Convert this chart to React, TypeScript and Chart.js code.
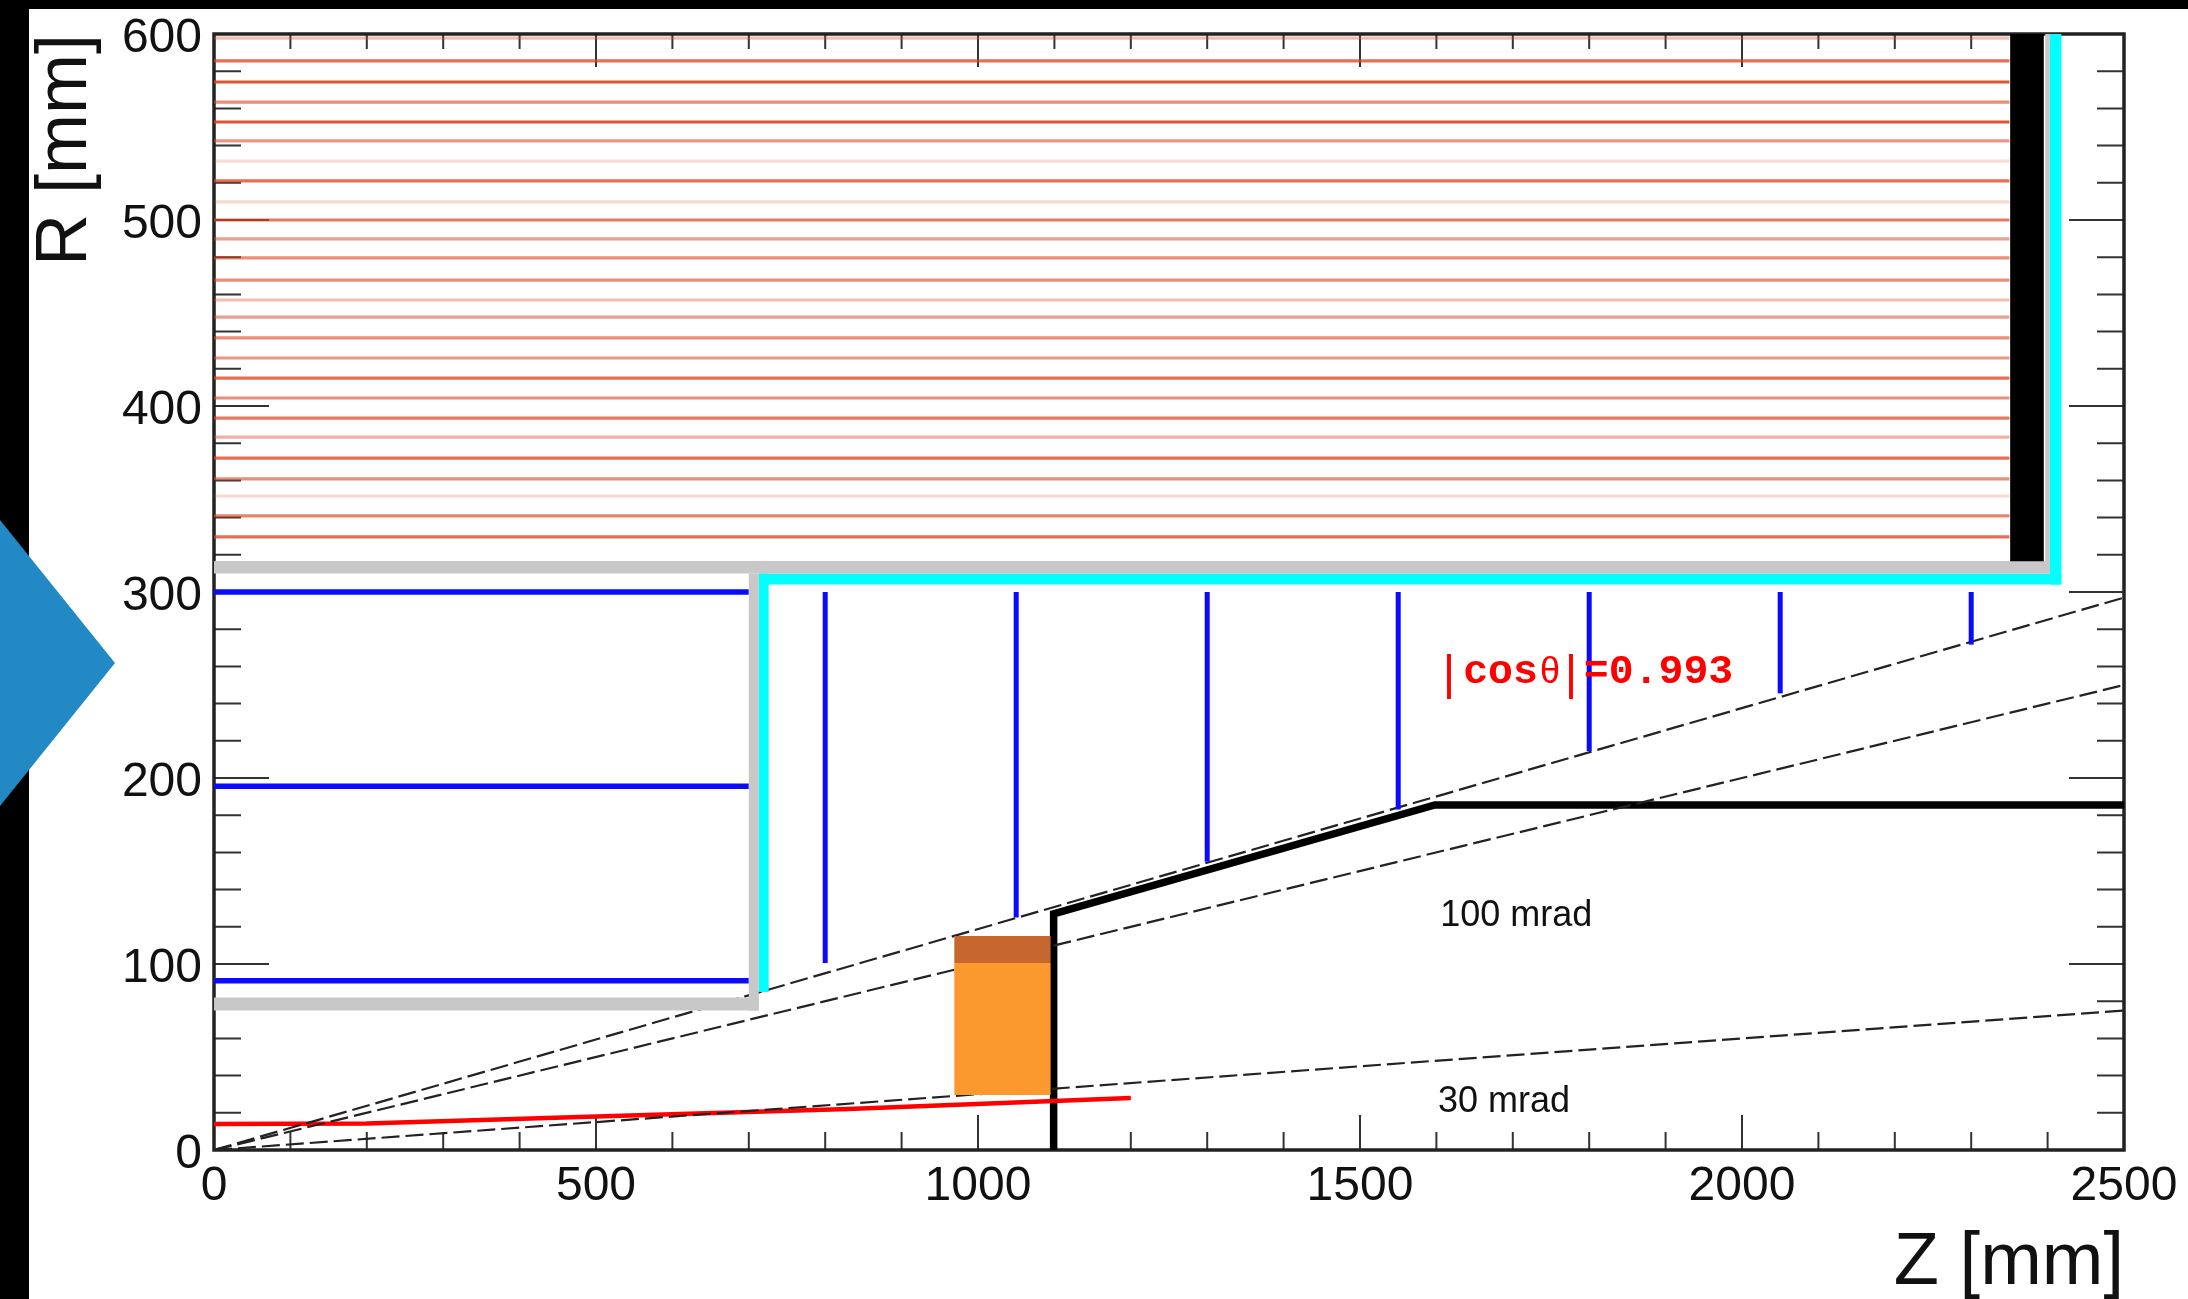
import React, { useEffect, useRef } from "react";
import { Chart, registerables } from "chart.js";

Chart.register(...registerables);

const xTickLabels = [0, 500, 1000, 1500, 2000, 2500];
const yTickLabels = [0, 100, 200, 300, 400, 500, 600];

const layerRadii = [597.8, 585.5, 574.2, 563.4, 552.7, 542.5, 531.7, 521, 509.7, 500, 489.8, 479.6, 467.7, 457, 447.8, 436.6, 425.8, 415, 404.3, 393.5, 383.3, 372, 360.8, 351.6, 340.9, 329.6];
const layerOpacity = [0.35, 0.75, 0.9, 0.6, 0.9, 0.55, 0.18, 0.75, 0.2, 0.7, 0.5, 0.6, 0.6, 0.35, 0.5, 0.6, 0.55, 0.75, 0.6, 0.7, 0.4, 0.75, 0.6, 0.2, 0.65, 0.75];
const layerEndZ = 2350;

const blueBarrelRadii = [300, 195.5, 91];
const blueBarrelEndZ = 700;
const blueDiskZ = [800, 1050, 1300, 1550, 1800, 2050, 2300];
const blueDiskInnerR = [100.5, 125, 155, 183, 214.5, 245.5, 271.7];
const blueDiskOuterR = 300;

const coneEndR = [297, 250, 75];
const coneEndZ = 2500;

const pipeZ = [1099, 1099, 1598, 2500];
const pipeR = [0, 127, 185.5, 185.5];

const redZ = [0, 200, 500, 830, 1200];
const redR = [14, 14.2, 18, 22, 28];

const pts = (zs: number[], rs: number[]) => zs.map((x, i) => ({ x, y: rs[i] }));

function line(zs: number[], rs: number[], color: string, width: number, extra: any = {}) {
  return {
    data: pts(zs, rs),
    showLine: true,
    pointRadius: 0,
    borderColor: color,
    borderWidth: width,
    borderCapStyle: "butt",
    borderJoinStyle: "miter",
    tension: 0,
    ...extra,
  };
}

function box(z0: number, z1: number, r0: number, r1: number, color: string) {
  return {
    data: pts([z0, z1, z1, z0, z0], [r0, r0, r1, r1, r0]),
    showLine: true,
    pointRadius: 0,
    borderWidth: 0,
    borderColor: color,
    backgroundColor: color,
    fill: "shape",
    tension: 0,
  };
}

const datasets: any[] = [
  ...layerRadii.map((r, i) =>
    line([0, layerEndZ], [r, r], `rgba(216,66,32,${layerOpacity[i]})`, 3.2)
  ),
  box(969, 1095, 29.6, 100.5, "#fc992e"),
  box(969, 1095, 100.5, 115, "#c5672f"),
  box(2351, 2395, 316.5, 600, "#000000"),
  box(0, 2403, 310, 316.7, "#c8c8c8"),
  box(2397, 2403, 310, 600, "#c8c8c8"),
  box(700, 713, 75, 310, "#c8c8c8"),
  box(0, 713, 75, 82, "#c8c8c8"),
  box(713, 2418, 304, 310, "#00ffff"),
  box(2403, 2418, 304, 600, "#00ffff"),
  box(713, 726, 85, 310, "#00ffff"),
  ...blueBarrelRadii.map((r) => line([0, blueBarrelEndZ], [r, r], "#0a0aff", 5.5)),
  ...blueDiskZ.map((z, i) => line([z, z], [blueDiskInnerR[i], blueDiskOuterR], "#0a0aff", 5)),
  ...coneEndR.map((r) => line([0, coneEndZ], [0, r], "#222222", 2.2, { borderDash: [18, 6] })),
  line(redZ, redR, "#ff0000", 4.5),
  line(pipeZ, pipeR, "#000000", 7.5),
];

const annotations = [
  { text: "100 mrad", z: 1605, r: 126, font: "36px 'Liberation Sans'", color: "#111", align: "left", base: "middle" },
  { text: "30 mrad", z: 1602, r: 25.8, font: "36px 'Liberation Sans'", color: "#111", align: "left", base: "middle" },
  { text: "|", z: 1616.5, r: 248, font: "48px 'Liberation Sans'", color: "#ff0000", align: "center", base: "alphabetic" },
  { text: "cos", z: 1635, r: 251, font: "bold 41.5px 'Liberation Mono'", color: "#ff0000", align: "left", base: "alphabetic" },
  { text: "θ", z: 1735.6, r: 251, font: "36px 'Liberation Sans'", color: "#ff0000", align: "left", base: "alphabetic" },
  { text: "|", z: 1776, r: 248, font: "48px 'Liberation Sans'", color: "#ff0000", align: "center", base: "alphabetic" },
  { text: "=0.993", z: 1793, r: 251, font: "bold 41.5px 'Liberation Mono'", color: "#ff0000", align: "left", base: "alphabetic" },
];

const frameAndTicks = {
  id: "frameAndTicks",
  beforeDatasetsDraw(chart: any) {
    const { ctx, chartArea: a, scales } = chart;
    ctx.save();
    ctx.strokeStyle = "#333";
    ctx.lineWidth = 2;
    scales.x.ticks.forEach((t: any) => {
      const p = scales.x.getPixelForValue(t.value);
      if (t.value === 0 || t.value === 2500) return;
      const major = t.value % 500 === 0;
      ctx.beginPath();
      ctx.moveTo(p, a.bottom);
      ctx.lineTo(p, a.bottom - (major ? 35 : 18));
      ctx.moveTo(p, a.top);
      ctx.lineTo(p, a.top + (major ? 33 : 15));
      ctx.stroke();
    });
    scales.y.ticks.forEach((t: any) => {
      const p = scales.y.getPixelForValue(t.value);
      if (t.value === 0 || t.value === 600) return;
      const major = t.value % 100 === 0;
      const len = major ? 55 : 27;
      ctx.beginPath();
      ctx.moveTo(a.left, p);
      ctx.lineTo(a.left + len, p);
      ctx.moveTo(a.right, p);
      ctx.lineTo(a.right - len, p);
      ctx.stroke();
    });
    ctx.lineWidth = 3.5;
    ctx.strokeStyle = "#222";
    ctx.strokeRect(a.left, a.top, a.right - a.left, a.bottom - a.top);
    ctx.restore();
  },
  afterDatasetsDraw(chart: any) {
    const { ctx, scales } = chart;
    ctx.save();
    annotations.forEach((n) => {
      ctx.font = n.font;
      ctx.fillStyle = n.color;
      ctx.textAlign = n.align;
      ctx.textBaseline = n.base;
      ctx.fillText(n.text, scales.x.getPixelForValue(n.z), scales.y.getPixelForValue(n.r));
    });
    ctx.restore();
  },
};

export default function App() {
  const ref = useRef<HTMLCanvasElement>(null);
  useEffect(() => {
    const chart = new Chart(ref.current!, {
      type: "scatter",
      data: { datasets },
      plugins: [frameAndTicks],
      options: {
        animation: false,
        responsive: false,
        layout: { padding: { top: 34, right: 64, left: 0, bottom: 0 } },
        plugins: { legend: { display: false }, tooltip: { enabled: false } },
        events: [],
        scales: {
          x: {
            type: "linear",
            min: 0,
            max: 2500,
            afterFit: (s: any) => {
              s.height = 149;
              s.paddingLeft = s.paddingRight = 0;
            },
            grid: { display: false, drawTicks: false },
            border: { display: false },
            ticks: {
              stepSize: 100,
              autoSkip: false,
              maxRotation: 0,
              minRotation: 0,
              padding: 8,
              color: "#111",
              font: { family: "'Liberation Sans'", size: 48 },
              callback: (v: any) => (xTickLabels.includes(v) ? String(v) : ""),
            },
            title: {
              display: true,
              text: "Z [mm]",
              align: "end",
              color: "#111",
              font: { family: "'Liberation Sans'", size: 74, lineHeight: 0.95 },
              padding: { top: 0, bottom: 0 },
            },
          },
          y: {
            type: "linear",
            min: 0,
            max: 600,
            afterFit: (s: any) => {
              s.width = 214;
              s.paddingTop = s.paddingBottom = 0;
            },
            grid: { display: false, drawTicks: false },
            border: { display: false },
            ticks: {
              stepSize: 20,
              autoSkip: false,
              padding: 12,
              labelOffset: 5,
              color: "#111",
              font: { family: "'Liberation Sans'", size: 48 },
              callback: (v: any) => (yTickLabels.includes(v) ? String(v) : ""),
            },
            title: {
              display: true,
              text: "R [mm]",
              align: "end",
              color: "#111",
              font: { family: "'Liberation Sans'", size: 72 },
              padding: { top: 23, bottom: 0 },
            },
          },
        },
      } as any,
    });
    return () => chart.destroy();
  }, []);

  return (
    <div style={{ position: "absolute", left: 0, top: 0, width: 2188, height: 1299, overflow: "hidden", background: "#fff" }}>
      <div style={{ position: "absolute", left: 0, top: 0, width: 2188, height: 9, background: "#000" }} />
      <div style={{ position: "absolute", left: 0, top: 0, width: 29, height: 1299, background: "#000" }} />
      <div
        style={{
          position: "absolute",
          left: 0,
          top: 520,
          width: 115,
          height: 286,
          background: "#2389c5",
          clipPath: "polygon(0 0, 100% 50%, 0 100%)",
        }}
      />
      <canvas
        ref={ref}
        width={2188}
        height={1299}
        style={{ position: "absolute", left: 0, top: 0, display: "block", filter: "blur(0.7px)" }}
      />
    </div>
  );
}
